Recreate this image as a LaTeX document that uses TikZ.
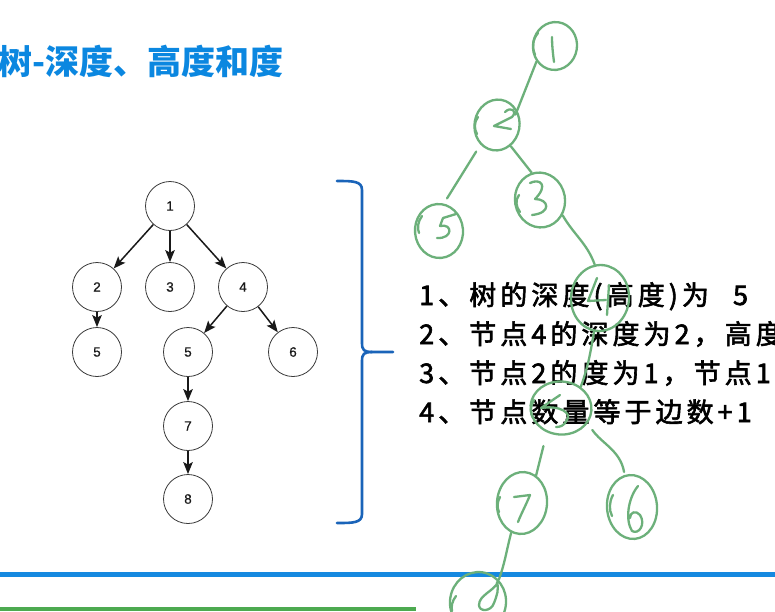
\documentclass[tikz,border=0pt]{standalone}
\usepackage{fontspec}
\setmainfont{Liberation Sans}
\newfontfamily\labelfont[FakeBold=0.6]{Liberation Sans}
\newfontfamily\cjk{Noto Sans CJK SC}
\newfontfamily\cjkspaced[LetterSpace=15,FakeBold=2.2]{Noto Sans CJK SC}
\usetikzlibrary{arrows.meta,shapes.geometric}

\definecolor{titleblue}{HTML}{0B87E0}
\definecolor{lineblue}{HTML}{1589E0}
\definecolor{linegreen}{HTML}{4DAA50}
\definecolor{bracecol}{HTML}{1A64B9}
\definecolor{hand}{RGB}{108,176,122}
\definecolor{ringgray}{HTML}{3A3A3A}

\tikzset{
  treenode/.style={circle, draw=ringgray, line width=0.8pt, minimum size=49pt,
    inner sep=0pt, text=black!90, font=\labelfont\fontsize{13.5}{13.5}\selectfont},
  treeedge/.style={line width=1.5pt, draw=black!90,
    -{Stealth[length=12pt,width=9.5pt,inset=2.5pt]}},
  noteline/.style={anchor=base west, inner sep=0pt, text=black,
    font=\cjkspaced\fontsize{27}{27}\selectfont},
  hand/.style={draw=hand, line width=2.3pt, line cap=round, line join=round},
  gnode/.style={ellipse, draw=hand, line width=2.3pt, inner sep=0pt},
}

\begin{document}
\begin{tikzpicture}[x=1pt,y=-1pt]
\useasboundingbox (0,0) rectangle (775,611);
\fill[white] (0,0) rectangle (775,611);

% footer rules
\fill[lineblue] (0,571.5) rectangle (775,576.5);
\fill[linegreen] (0,607) rectangle (416,611);

% heading
\node[anchor=base west, inner sep=0pt, text=titleblue,
  font=\cjk\bfseries\fontsize{34}{34}\selectfont] (title) at (-1.5,74) {树-深度、高度和度};

% example tree
\node[treenode] (n1) at (170,206) {1};
\node[treenode] (n2) at (97,287) {2};
\node[treenode] (n3) at (170,287) {3};
\node[treenode] (n4) at (243,287) {4};
\node[treenode] (n5a) at (97,352) {5};
\node[treenode] (n5b) at (188,352) {5};
\node[treenode] (n6) at (293,352) {6};
\node[treenode] (n7) at (188,426) {7};
\node[treenode] (n8) at (188,499) {8};
\draw[treeedge] (n1) -- (n2);
\draw[treeedge] (n1) -- (n3);
\draw[treeedge] (n1) -- (n4);
\draw[treeedge] (n2) -- (n5a);
\draw[treeedge] (n4) -- (n5b);
\draw[treeedge] (n4) -- (n6);
\draw[treeedge] (n5b) -- (n7);
\draw[treeedge] (n7) -- (n8);

% right brace
\draw[bracecol, line width=2.6pt, line cap=round, line join=round]
  (337,181) .. controls (353,181) and (362,181) .. (362,190) -- (362,343)
  .. controls (362,350) and (364,352) .. (372,352) -- (393,352);
\draw[bracecol, line width=2.6pt, line cap=round, line join=round]
  (372,352) .. controls (364,352) and (362,354) .. (362,361) -- (362,514)
  .. controls (362,523) and (353,523) .. (337,523);

% notes
\begin{scope}
\clip (0,0) rectangle (775,611);
\node[noteline] (l1) at (419,305) {1、树的深度(高度)为\kern14pt{} 5};
\node[noteline] (l2) at (419,344) {2、节点4的深度为2，高度};
\node[noteline] (l3) at (419,383) {3、节点2的度为1，节点1};
\node[noteline] (l4) at (419,422) {4、节点数量等于边数+1};
\end{scope}

% hand-drawn tree
\begin{scope}
\clip (0,0) rectangle (775,611);
\node[gnode, minimum width=44pt, minimum height=48pt, rotate=-8] (g1) at (555,46) {};
\node[gnode, minimum width=45pt, minimum height=51pt, rotate=-10] (g2) at (497,125) {};
\node[gnode, minimum width=50pt, minimum height=55pt, rotate=10] (g3) at (540,200) {};
\node[gnode, minimum width=48pt, minimum height=54pt, rotate=5] (g5) at (439,231) {};
\node[gnode, minimum width=58pt, minimum height=66pt, rotate=-5] (g4) at (600,298) {};
\node[gnode, minimum width=61pt, minimum height=53pt, rotate=-5] (g5b) at (561,408) {};
\node[gnode, minimum width=50pt, minimum height=62pt, rotate=-5] (g7) at (522,503) {};
\node[gnode, minimum width=50pt, minimum height=64pt, rotate=5] (g6) at (632,507) {};
\node[gnode, minimum width=56pt, minimum height=60pt, rotate=-8] (g8) at (478,602) {};

\draw[hand] (g1.228) -- ([shift={(-2,4)}]g2.45);
\draw[hand] (g2.313) -- (g3.97);
\draw[hand, shorten <=8pt, shorten >=6pt] (g2.240) -- (g5.75);
\draw[hand] (g3.316) to[out=-60,in=110] (g4.104);
\draw[hand] (g4.265) to[out=-100,in=70] (g5b.52);
\draw[hand, shorten <=14pt] (g5b.245) -- (g7.68);
\draw[hand, shorten <=8pt, shorten >=3pt] (g5b.335) to[out=-55,in=100] (g6.98);
\draw[hand] (g7.255) to[out=-105,in=70] (g8.55);

% doubled strokes on the loops
\draw[hand] (538,33) .. controls (532,40) and (532,48) .. (535,55);
\draw[hand] (478,117) .. controls (474,122) and (474,129) .. (477,134);
\draw[hand] (519,195) .. controls (515,200) and (516,207) .. (520,212);
\draw[hand] (422,216) .. controls (418,221) and (417,228) .. (419,233);
\draw[hand] (534,400) .. controls (530,406) and (530,413) .. (533,418);
\draw[hand] (500,497) .. controls (497,502) and (497,508) .. (499,512);
\draw[hand] (613,495) .. controls (609,502) and (609,510) .. (612,516);
\draw[hand] (456,596) .. controls (452,601) and (451,607) .. (452,611);

% handwritten labels
\draw[hand] (552,37) .. controls (552,46) and (553,54) .. (554,62);
\draw[hand] (505,112) .. controls (511,106) and (518,111) .. (512,117) -- (494,126) -- (511,129);
\draw[hand] (530,183) .. controls (540,178) and (549,185) .. (535,199)
  .. controls (549,199) and (552,213) .. (532,215);
\draw[hand] (456,214) -- (443,218) -- (440,226)
  .. controls (453,223) and (453,239) .. (437,238);
\draw[hand] (597,278) -- (588,301) -- (606,300);
\draw[hand] (609,285) -- (607,315);
\draw[hand] (560,395) -- (541,408) .. controls (560,405) and (572,413) .. (567,420)
  .. controls (564,426) and (560,427) .. (556,427);
\draw[hand] (514,497) -- (530,495) .. controls (526,505) and (521,514) .. (518,522);
\draw[hand] (638,486) .. controls (628,498) and (625,520) .. (632,531)
  .. controls (639,535) and (646,524) .. (640,515) .. controls (636,510) and (630,512) .. (630,518);
\draw[hand] (498,582) .. controls (494,591) and (479,595) .. (479,605)
  .. controls (479,612) and (491,612) .. (494,603) .. controls (497,595) and (499,590) .. (497,582);
\end{scope}
\end{tikzpicture}
\end{document}
